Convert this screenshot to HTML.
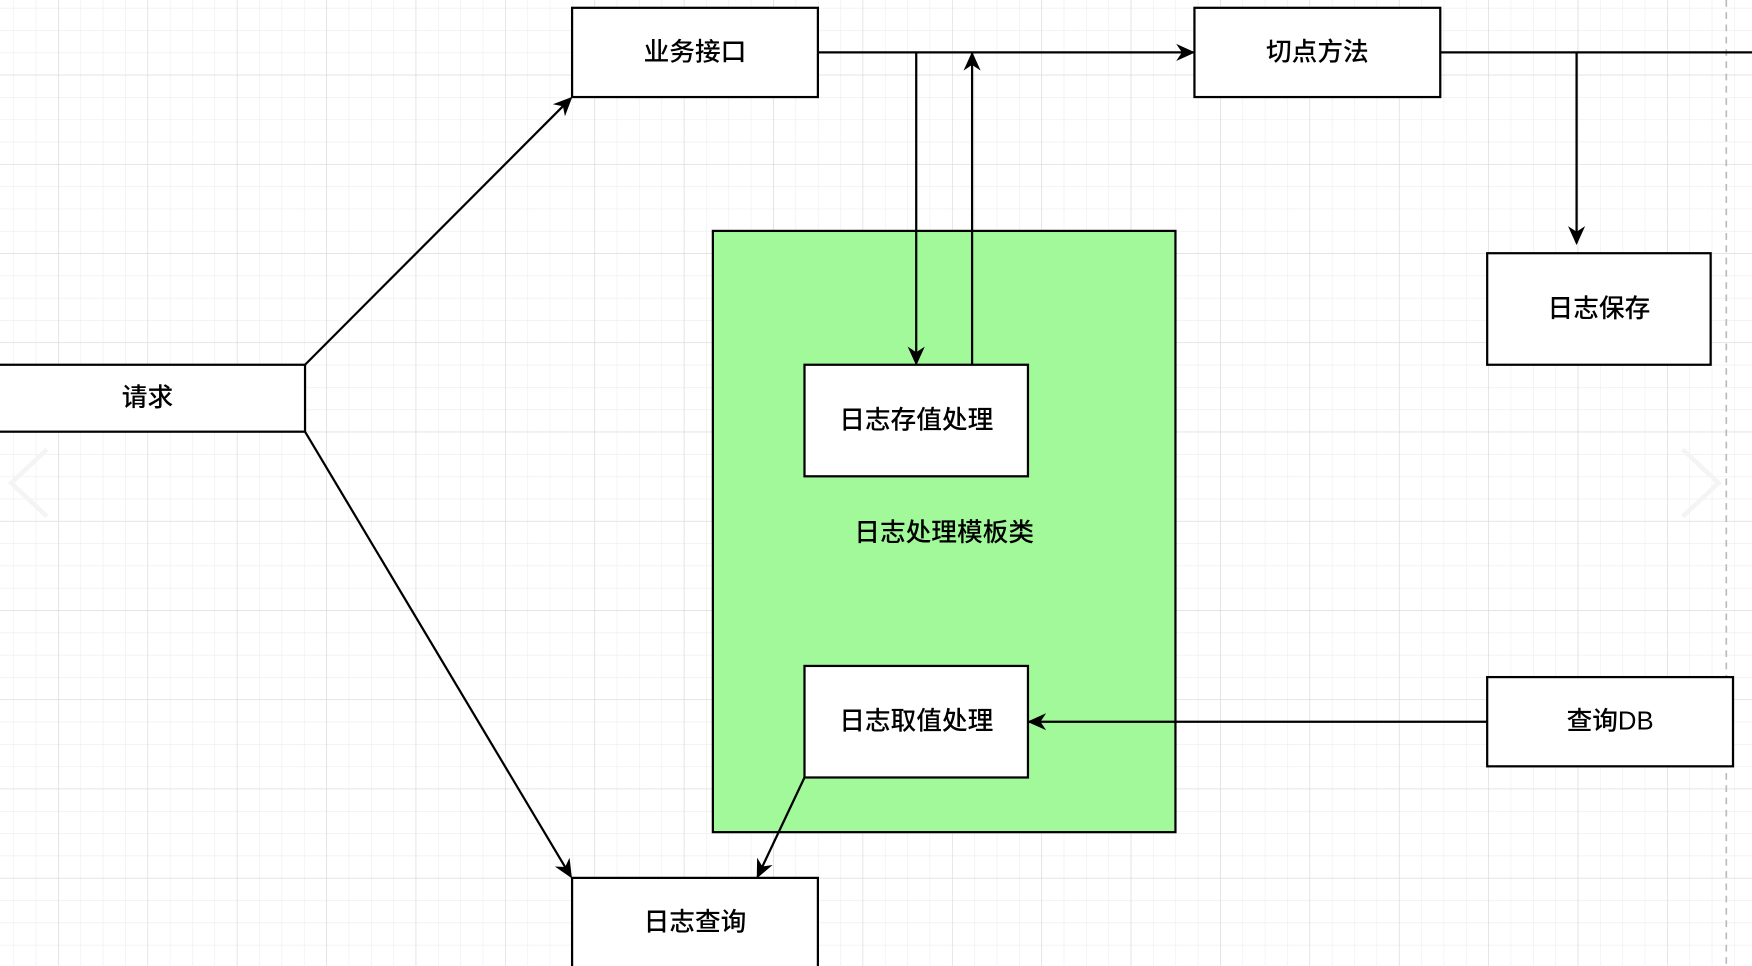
<!DOCTYPE html>
<html><head><meta charset="utf-8"><style>
html,body{margin:0;padding:0;background:#fff;overflow:hidden}
svg{display:block}
text{font-family:"Liberation Sans","Noto Sans CJK SC",sans-serif;font-size:23px;font-weight:500;fill:#000;text-anchor:middle;dominant-baseline:central}
</style></head><body>
<svg width="1752" height="966" viewBox="0 0 1568 866" preserveAspectRatio="none" xmlns="http://www.w3.org/2000/svg">
<defs>
<pattern id="minor" x="12" y="7" width="20" height="20" patternUnits="userSpaceOnUse">
<path d="M0 0V20M0 0H20" stroke="#ececec" stroke-width="1" fill="none"/>
</pattern>
<pattern id="major" x="52" y="67" width="80" height="80" patternUnits="userSpaceOnUse">
<path d="M0 0V80M0 0H80" stroke="#d6d6d6" stroke-width="1" fill="none"/>
</pattern>
<marker id="a" viewBox="0 0 10 10" refX="9" refY="5" markerWidth="17" markerHeight="17" markerUnits="userSpaceOnUse" orient="auto">
<path d="M0 0.5L10 5L0 9.5L3 5Z" fill="#000"/>
</marker>
</defs>
<rect width="1568" height="866" fill="url(#minor)"/>
<rect width="1568" height="866" fill="url(#major)"/>
<line x1="1545" y1="0" x2="1545" y2="866" stroke="#bbb" stroke-dasharray="6 5" stroke-width="1.5"/>
<g fill="none" stroke="#f4f4f4" stroke-width="4">
<path d="M42 403L10 433L42 463"/><path d="M1506 403L1538 433L1506 463"/>
</g>
<rect x="638" y="207" width="414" height="539" fill="#a1f99a" stroke="#000" stroke-width="2"/>
<g fill="#fff" stroke="#000" stroke-width="2">
<rect x="-2" y="327" width="275" height="60"/>
<rect x="512" y="7" width="220" height="80"/>
<rect x="1069" y="7" width="220" height="80"/>
<rect x="1331" y="227" width="200" height="100"/>
<rect x="720" y="327" width="200" height="100"/>
<rect x="720" y="597" width="200" height="100"/>
<rect x="1331" y="607" width="220" height="80"/>
<rect x="512" y="787" width="220" height="90"/>
</g>
<g stroke="#000" stroke-width="2" fill="none">
<path d="M273 327L511 88" marker-end="url(#a)"/>
<path d="M273 387L511 786" marker-end="url(#a)"/>
<path d="M732 47H1068" marker-end="url(#a)"/>
<path d="M820 47V326" marker-end="url(#a)"/>
<path d="M870 327V48" marker-end="url(#a)"/>
<path d="M1289 47H1568"/>
<path d="M1411 47V218" marker-end="url(#a)"/>
<path d="M1331 647H921" marker-end="url(#a)"/>
<path d="M720 697L678 786" marker-end="url(#a)"/>
</g>
<text x="132" y="357">请求</text>
<text x="622" y="47">业务接口</text>
<text x="1179" y="47">切点方法</text>
<text x="1431" y="277">日志保存</text>
<text x="820" y="377">日志存值处理</text>
<text x="845" y="478">日志处理模板类</text>
<text x="820" y="647">日志取值处理</text>
<text x="1441" y="647">查询DB</text>
<text x="622" y="827">日志查询</text>
</svg>
</body></html>
